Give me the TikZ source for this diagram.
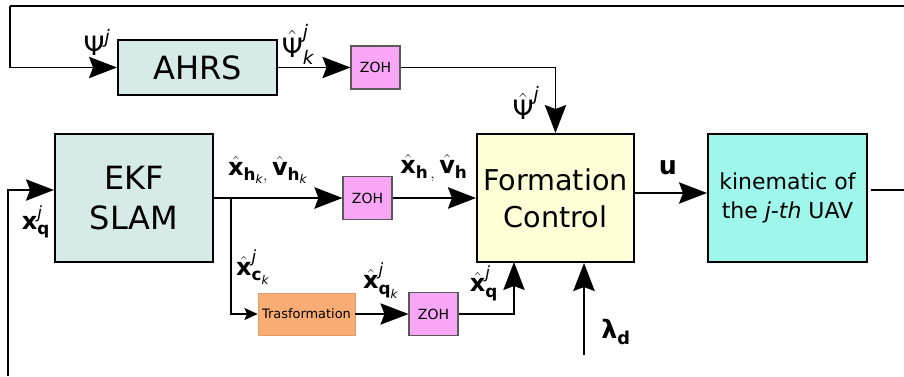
\documentclass[tikz,border=0pt]{standalone}
\usepackage{amsmath}
\usepackage[no-math]{fontspec}
\setmainfont{DejaVu Sans}
\usetikzlibrary{arrows.meta}

\definecolor{ekfcol}{HTML}{D6EAE8}
\definecolor{zohcol}{HTML}{F9A6F7}
\definecolor{tracol}{HTML}{F9AC74}
\definecolor{fccol}{HTML}{FFFFD8}
\definecolor{kincol}{HTML}{9FF6EB}

\tikzset{
  block/.style={draw, line width=1.5pt, inner sep=0pt, align=center},
  zoh/.style={draw=black!65, fill=zohcol, line width=0.8pt, inner sep=0pt,
    minimum width=49*0.75pt, minimum height=43*0.75pt, font=\fontsize{10.5}{12}\selectfont},
  lbl/.style={inner sep=0pt, font=\fontsize{18}{20}\selectfont},
  sig/.style={line width=1.2pt, -{Stealth[length=21pt,width=16pt,inset=3pt]}},
  bigsig/.style={line width=1.9pt, -{Stealth[length=21pt,width=16pt,inset=3pt]}},
  smallsig/.style={line width=1.2pt, -{Stealth[length=10pt,width=9pt,inset=2pt]}},
}

\begin{document}
\begin{tikzpicture}[x=0.75pt,y=-0.75pt]
\useasboundingbox (0,0) rectangle (904,376);

\node[block, fill=ekfcol, minimum width=159*0.75pt, minimum height=55*0.75pt,
  font=\fontsize{24}{28}\selectfont] (ahrs) at (197.5,67.5) {AHRS};
\node[zoh] (zoha) at (375.5,67.5) {ZOH};
\node[block, fill=ekfcol, minimum width=158*0.75pt, minimum height=128*0.75pt,
  font=\fontsize{24}{30}\selectfont] (ekf) at (134,198) {EKF\\SLAM};
\node[zoh] (zohb) at (367.5,198) {ZOH};
\node[draw=tracol!90!black, fill=tracol, inner sep=0pt, minimum width=97*0.75pt,
  minimum height=42*0.75pt, font=\fontsize{9.7}{11}\selectfont] (tra) at (306.5,314) {Trasformation};
\node[zoh] (zohc) at (433.5,314) {ZOH};
\node[block, fill=fccol, minimum width=157*0.75pt, minimum height=128*0.75pt,
  font=\fontsize{21.5}{27.5}\selectfont] (fc) at (555.5,198) {Formation\\Control};
\node[block, fill=kincol, minimum width=159*0.75pt, minimum height=128*0.75pt,
  font=\fontsize{16.5}{22}\selectfont] (kin) at (787.5,198) {kinematic of\\the \textit{j-th} UAV};

\coordinate (topR) at (904,6);
\coordinate (topL) at (10,6);
\coordinate (botL) at (8,376);
\coordinate (kout) at (904,190);
\coordinate (split) at (231,198);
\coordinate (qin) at (514,262);
\coordinate (lam) at (584,355);

% feedback paths
\draw[line width=1.1pt] (topR) -- (topL);
\path[draw,sig] (topL) |- (ahrs.west);
\path[draw,sig] (botL) |- ([yshift=6pt]ekf.west);
\draw[line width=1.1pt] ([xshift=2pt,yshift=6pt]kin.east) -- (kout);

% attitude
\path[draw,sig] (ahrs.east) -- (zoha.west);
\path[draw,sig] (zoha.east) -| (fc.north);

% slam outputs
\path[draw,bigsig] (ekf.east) -- (zohb.west);
\path[draw,bigsig] (zohb.east) -- (fc.west);
\path[draw,smallsig] (split) |- (tra.west);
\path[draw,sig] (tra.east) -- (zohc.west);
\path[draw,sig] (zohc.east) -| (qin);
\path[draw,bigsig] (lam) -- (lam |- fc.south);
\path[draw,sig] (fc.east |- 0,193) -- (kin.west |- 0,193);

% labels
\node[lbl, font=\fontsize{20}{22}\selectfont] (lpsi) at (97,42) {$\text{Ψ}^{\textit{j}}$};
\node[lbl, font=\fontsize{20}{22}\selectfont] (lpsik) at (298,44) {$\hat{\text{Ψ}}^{\textit{j}}_{\textit{k}}$};
\node[lbl, font=\fontsize{20}{22}\selectfont] (lpsih) at (526,103) {$\hat{\text{Ψ}}^{\textit{j}}$};
\node[lbl] (lxq) at (36,222) {$\textbf{x}^{\textit{j}}_{\textbf{q}}$};
\node[lbl] (lxhk) at (268,170) {$\hat{\textbf{x}}_{\textbf{h}_{\textit{k}},}\,\hat{\textbf{v}}_{\textbf{h}_{\textit{k}}}$};
\node[lbl] (lxh) at (434,168) {$\hat{\textbf{x}}_{\textbf{h}\,,}\,\hat{\textbf{v}}_{\textbf{h}}$};
\node[lbl] (lxck) at (253,267) {$\hat{\textbf{x}}^{\textit{j}}_{\textbf{c}_{\textit{k}}}$};
\node[lbl] (lxqk) at (381,281) {$\hat{\textbf{x}}^{\textit{j}}_{\textbf{q}_{\textit{k}}}$};
\node[lbl] (lxqh) at (484,283) {$\hat{\textbf{x}}^{\textit{j}}_{\textbf{q}}$};
\node[lbl, font=\fontsize{19}{21}\selectfont] (lu) at (668,168) {\textbf{u}};
\node[lbl, font=\fontsize{19}{21}\selectfont] (llam) at (616,332) {$\text{\textbf{λ}}_{\textbf{d}}$};
\end{tikzpicture}
\end{document}
